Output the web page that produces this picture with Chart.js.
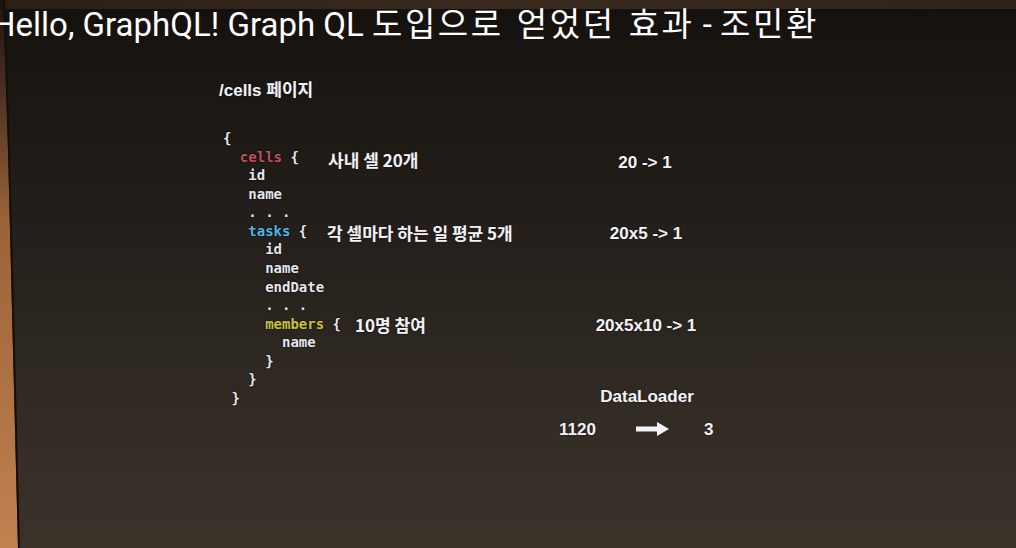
<!DOCTYPE html>
<html>
<head>
<meta charset="utf-8">
<script src="https://cdn.jsdelivr.net/npm/chart.js@4/dist/chart.umd.min.js"></script>
<style>
  html, body { margin: 0; padding: 0; }
  body {
    width: 1016px; height: 548px; overflow: hidden; position: relative;
    background: linear-gradient(180deg, #14100d 0px, #1b1713 90px, #26211c 260px, #332c25 420px, #3b322a 548px);
  }
  #topband { position: absolute; left: 0; top: 0; width: 1016px; height: 9px;
    background: linear-gradient(90deg, #2a1e15, #3b2b1f 50%, #2e2219); }
  #wood { position: absolute; left: 0; top: 0; width: 24px; height: 548px;
    background: linear-gradient(180deg, #1c140e 0px, #4a3020 90px, #9a6338 220px, #c08150 548px);
    clip-path: polygon(0 0, 3px 0, 8px 150px, 13px 350px, 18px 548px, 0 548px); }
  #woodedge { position: absolute; left: 0; top: 0; width: 24px; height: 548px; background: #150e0a;
    clip-path: polygon(3px 0, 5px 0, 10px 150px, 15px 350px, 20px 548px, 18px 548px, 13px 350px, 8px 150px); }
  #title { position: absolute; left: -8px; top: 2px; white-space: nowrap; color: #fff;
    font-family: Roboto, "Noto Sans CJK KR", sans-serif; font-size: 33px; line-height: 40px; }
  #title .ko { font-family: "Noto Sans CJK KR", sans-serif; font-size: 33px; letter-spacing: 2.6px; word-spacing: 3px; }
  .t { position: absolute; white-space: nowrap; color: #f2f2f6; font-weight: bold;
    font-family: "Liberation Sans", "Noto Sans CJK KR", sans-serif; line-height: 20px;
    text-shadow: 0 0 2px rgba(0,0,0,0.9), 0 0 1px rgba(255,255,255,0.3); }
  .ko { font-family: "Noto Sans CJK KR", sans-serif; }
  .c { text-align: center; width: 200px; }
  .code { position: absolute; white-space: pre; color: #e6e6ee;
    font-family: "DejaVu Sans Mono", monospace; font-weight: bold; font-size: 14px; line-height: 20px;
    text-shadow: 0 0 2px rgba(0,0,0,0.9); }
  .k1 { color: #c2505c; } .k2 { color: #4cb6e4; } .k3 { color: #c9c23e; }
  #arrowWrap { position: absolute; left: 628px; top: 419px; width: 50px; height: 20px; }
</style>
</head>
<body>
<div id="topband"></div>
<div id="wood"></div>
<div id="woodedge"></div>
<div id="title">Hello, GraphQL! Graph QL <span class="ko">도입으로 얻었던 효과</span>&nbsp;- <span class="ko">조민환</span></div>

<div class="t" style="left:219px; top:79px; font-size:17px;">/cells <span class="ko">페이지</span></div>

<div class="t ko" id="note0" style="left:328px; top:150px; font-size:17px;"></div>
<div class="t ko" id="note1" style="left:327px; top:223px; font-size:17px;"></div>
<div class="t ko" id="note2" style="left:355px; top:315px; font-size:17px;"></div>

<div class="t c" id="calc0" style="left:545px; top:153px; font-size:17px;"></div>
<div class="t c" id="calc1" style="left:546px; top:224px; font-size:17px;"></div>
<div class="t c" id="calc2" style="left:546px; top:316px; font-size:17px;"></div>
<div class="t c" style="left:547px; top:387px; font-size:17px;">DataLoader</div>
<div class="t" id="before" style="left:559px; top:420px; font-size:17px;"></div>
<div class="t" id="after" style="left:704px; top:420px; font-size:17px;"></div>
<div id="arrowWrap"><canvas id="arrow" width="50" height="20"></canvas></div>

<script>
// the query on the slide, one entry per line
var codeLines = ['{', '  cells {', '   id', '   name', '   . . .', '   tasks {', '     id', '     name',
  '     endDate', '     . . .', '     members {', '       name', '     }', '   }', ' }'];
var keywords = { cells: 'k1', tasks: 'k2', members: 'k3' };

// per level: annotation, request count without and with batching
var notes = ['사내 셀 20개', '각 셀마다 하는 일 평균 5개', '10명 참여'];
var reductions = ['20 -> 1', '20x5 -> 1', '20x5x10 -> 1'];
var requestCounts = [1120, 3];   // before / after DataLoader
var arrowX = [0, 1];
var arrowY = [0, 0];

var charW = 8.43;
function addCode(text, left, top, cls) {
  var d = document.createElement('div');
  d.className = 'code' + (cls ? ' ' + cls : '');
  d.style.left = left + 'px';
  d.style.top = top + 'px';
  d.textContent = text;
  document.body.appendChild(d);
}
codeLines.forEach(function(line, i) {
  var indent = line.length - line.replace(/^ +/, '').length;
  var body = line.trim();
  var left = 223 + indent * charW;
  var top = 128 + i * 18.57;
  var word = body.split(' ')[0];
  if (keywords[word]) {
    addCode(word, left, top, keywords[word]);
    addCode(body.slice(word.length + 1), left + (word.length + 1) * charW, top);
  } else {
    addCode(body, left, top);
  }
});

notes.forEach(function(n, i) { document.getElementById('note' + i).textContent = n; });
reductions.forEach(function(r, i) { document.getElementById('calc' + i).textContent = r; });
document.getElementById('before').textContent = requestCounts[0];
document.getElementById('after').textContent = requestCounts[1];

var ctx = document.getElementById('arrow').getContext('2d');
new Chart(ctx, {
  type: 'scatter',
  data: {
    datasets: [{
      data: arrowX.map(function(x, i) { return {x: x, y: arrowY[i]}; }),
      showLine: true,
      borderColor: '#f4f4f8',
      borderWidth: 5,
      pointStyle: 'triangle',
      pointRotation: 90,
      pointRadius: [0, 8],
      pointBorderWidth: 0,
      pointBackgroundColor: '#f4f4f8'
    }]
  },
  options: {
    responsive: false,
    animation: false,
    clip: false,
    layout: { padding: { left: 5, right: 17, top: 0, bottom: 0 } },
    scales: {
      x: { type: 'linear', display: false, min: 0, max: 1 },
      y: { display: false, min: -1, max: 1 }
    },
    plugins: { legend: { display: false }, tooltip: { enabled: false } },
    events: []
  }
});
</script>
</body>
</html>
